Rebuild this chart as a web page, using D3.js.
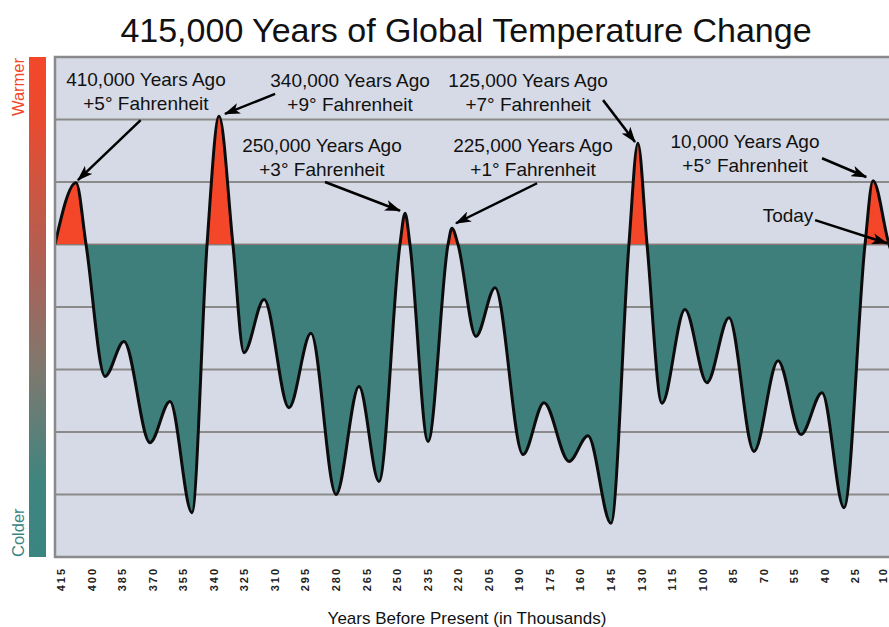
<!DOCTYPE html>
<html>
<head>
<meta charset="utf-8">
<script src="https://cdn.jsdelivr.net/npm/d3@7/dist/d3.min.js"></script>
<style>
  html, body { margin: 0; padding: 0; background: #ffffff; }
  svg { display: block; }
  text { font-family: "Liberation Sans", Arial, Helvetica, sans-serif; }
</style>
</head>
<body>
<svg id="chart" width="889" height="627"></svg>
<script>
// ---------------- DATA ----------------
const title = "415,000 Years of Global Temperature Change";
const xAxisTitle = "Years Before Present (in Thousands)";

// thousands of years before present
const years = [418, 407.6, 402.7, 393.4, 384.1, 371.3, 361.5, 350.7, 343.3, 337.4, 330.6,
  325.2, 315.3, 303.1, 292.3, 280.0, 268.7, 258.9, 248.6, 246.1, 243.7, 234.8, 225.0,
  223.1, 220.1, 211.3, 201.9, 188.2, 177.9, 165.6, 156.3, 145.0, 136.2, 131.8, 127.3,
  120.0, 108.7, 97.9, 87.1, 74.8, 63.0, 51.7, 41.4, 30.6, 20.3, 16.4, 8.5, 4];
// relative temperature (one unit = one grid step)
const temps = [0, 0.99, 0, -2.11, -1.55, -3.17, -2.51, -4.29, 0, 2.05, 0,
  -1.73, -0.88, -2.61, -1.42, -4.0, -2.27, -3.79, 0, 0.5, 0, -3.15, 0,
  0.26, 0, -1.47, -0.69, -3.36, -2.53, -3.47, -3.06, -4.46, 0, 1.62, 0,
  -2.54, -1.04, -2.21, -1.17, -3.31, -1.86, -3.04, -2.37, -4.21, 0, 1.02, 0, -0.4];

const tickYears = d3.range(415, 9, -15);          // 415, 400, ... 10
const gridTemps = [-4, -3, -2, -1, 0, 1, 2];

// annotations
const annoLine1 = ["410,000 Years Ago", "340,000 Years Ago", "250,000 Years Ago",
  "225,000 Years Ago", "125,000 Years Ago", "10,000 Years Ago", "Today"];
const annoLine2 = ["+5° Fahrenheit", "+9° Fahrenheit", "+3° Fahrenheit",
  "+1° Fahrenheit", "+7° Fahrenheit", "+5° Fahrenheit", ""];
const annoTextYear = [373.3, 273.1, 286.9, 183.3, 185.7, 79.2, 58.1];
const annoTextTemp = [2.536, 2.52, 1.48, 1.48, 2.52, 1.544, 0.36];
const arrowFromYear = [375.9, 309.9, 285.4, 181.3, 148.9, 41.4, 44.8];
const arrowFromTemp = [1.99, 2.41, 1.0, 0.98, 2.31, 1.38, 0.39];
const arrowToYear = [406.7, 334.5, 248.6, 221.1, 133.2, 19.7, 9.5];
const arrowToTemp = [1.03, 2.09, 0.54, 0.34, 1.64, 1.08, 0.02];

// ---------------- LAYOUT ----------------
const W = 889;
const svg = d3.select("#chart");
const plotLeft = 55, plotRight = 900, plotTop = 57, plotBottom = 557;

const x = d3.scaleLinear().domain([415, 10]).range([61, 886]);
const y = d3.scaleLinear().domain([-5, 3]).range([plotBottom, plotTop]);

const COL_BG = "#d6dae6", COL_GRID = "#8a8a8a", COL_RED = "#f4472a", COL_TEAL = "#3e7f7c";

const defs = svg.append("defs");
const grad = defs.append("linearGradient").attr("id", "bar").attr("x1", 0).attr("y1", 0).attr("x2", 0).attr("y2", 1);
[[0, "#f4472a"], [0.12, "#ea4b2f"], [0.45, "#a6645a"], [0.62, "#80786e"], [0.85, "#3f8580"], [1, "#3a8580"]]
  .forEach(([o, c]) => grad.append("stop").attr("offset", o).attr("stop-color", c));

defs.append("clipPath").attr("id", "plotClip").append("rect")
  .attr("x", plotLeft).attr("y", plotTop).attr("width", plotRight - plotLeft).attr("height", plotBottom - plotTop);
defs.append("clipPath").attr("id", "warmClip").append("rect")
  .attr("x", plotLeft).attr("y", plotTop).attr("width", plotRight - plotLeft).attr("height", y(0) - plotTop);
defs.append("clipPath").attr("id", "coldClip").append("rect")
  .attr("x", plotLeft).attr("y", y(0)).attr("width", plotRight - plotLeft).attr("height", plotBottom - y(0));

defs.append("marker").attr("id", "arrow")
  .attr("markerUnits", "userSpaceOnUse")
  .attr("viewBox", "0 0 16 11").attr("refX", 15).attr("refY", 5.5)
  .attr("markerWidth", 16).attr("markerHeight", 11).attr("orient", "auto")
  .append("path").attr("d", "M0,0 L16,5.5 L0,11 L4,5.5 Z").attr("fill", "#000");

// title
svg.append("text").attr("x", 466).attr("y", 42).attr("text-anchor", "middle")
  .attr("font-size", 34).attr("fill", "#111").text(title);

// colour bar + labels
svg.append("rect").attr("x", 29).attr("y", plotTop).attr("width", 17).attr("height", plotBottom - plotTop)
  .attr("fill", "url(#bar)");
svg.append("text").attr("transform", `translate(24,${plotTop + 1}) rotate(-90)`)
  .attr("text-anchor", "end").attr("font-size", 16.5).attr("fill", "#f04a2a").text("Warmer");
svg.append("text").attr("transform", `translate(24,${plotBottom}) rotate(-90)`)
  .attr("text-anchor", "start").attr("font-size", 16.5).attr("fill", "#3a8580").text("Colder");

// plot background
svg.append("rect").attr("x", plotLeft).attr("y", plotTop).attr("width", plotRight - plotLeft)
  .attr("height", plotBottom - plotTop).attr("fill", COL_BG);

// grid lines
svg.append("g").selectAll("line").data(gridTemps).join("line")
  .attr("x1", plotLeft).attr("x2", plotRight)
  .attr("y1", d => y(d)).attr("y2", d => y(d))
  .attr("stroke", COL_GRID).attr("stroke-width", 2.2);

// data
const pts = years.map((yr, i) => ({ yr, t: temps[i] }));
const area = d3.area().x(d => x(d.yr)).y0(y(0)).y1(d => y(d.t)).curve(d3.curveMonotoneX);
const line = d3.line().x(d => x(d.yr)).y(d => y(d.t)).curve(d3.curveMonotoneX);

const plot = svg.append("g").attr("clip-path", "url(#plotClip)");
plot.append("g").attr("clip-path", "url(#warmClip)").append("path")
  .datum(pts).attr("d", area).attr("fill", COL_RED);
plot.append("g").attr("clip-path", "url(#coldClip)").append("path")
  .datum(pts).attr("d", area).attr("fill", COL_TEAL);
plot.append("path").datum(pts).attr("d", line).attr("fill", "none")
  .attr("stroke", "#0c0c0c").attr("stroke-width", 3).attr("stroke-linejoin", "round");

// frame
svg.append("rect").attr("x", plotLeft).attr("y", plotTop).attr("width", plotRight - plotLeft)
  .attr("height", plotBottom - plotTop).attr("fill", "none").attr("stroke", "#8a8a8a").attr("stroke-width", 2.5);

// x axis tick labels
const xAxis = d3.axisBottom(x).tickValues(tickYears).tickSize(0).tickPadding(0).tickFormat(d3.format("d"));
const gx = svg.append("g").attr("transform", `translate(0,${plotBottom + 10})`).call(xAxis);
gx.select(".domain").remove();
// keep the last label fully inside the picture
gx.selectAll(".tick").attr("transform", d => `translate(${Math.min(x(d), W - 6)},0)`);
gx.selectAll("text")
  .attr("transform", "rotate(-90)")
  .attr("text-anchor", "end")
  .attr("x", 0).attr("y", 0).attr("dy", "0.36em")
  .attr("font-family", "'Liberation Sans', Arial, sans-serif")
  .attr("font-size", 11).attr("font-weight", "bold")
  .attr("letter-spacing", "2px")
  .attr("fill", "#222");

// x axis title
svg.append("text").attr("x", 467).attr("y", 624).attr("text-anchor", "middle")
  .attr("font-size", 17).attr("fill", "#111").text(xAxisTitle);

// annotations
const ag = svg.append("g");
annoLine1.forEach((t1, i) => {
  const tx = x(annoTextYear[i]), ty = y(annoTextTemp[i]);
  ag.append("text").attr("x", tx).attr("y", ty).attr("text-anchor", "middle")
    .attr("font-size", 19).attr("fill", "#111").text(t1);
  if (annoLine2[i]) {
    ag.append("text").attr("x", tx).attr("y", ty + 24).attr("text-anchor", "middle")
      .attr("font-size", 19).attr("fill", "#111").text(annoLine2[i]);
  }
  ag.append("line")
    .attr("x1", x(arrowFromYear[i])).attr("y1", y(arrowFromTemp[i]))
    .attr("x2", x(arrowToYear[i])).attr("y2", y(arrowToTemp[i]))
    .attr("stroke", "#000").attr("stroke-width", 2.5)
    .attr("marker-end", "url(#arrow)");
});
</script>
</body>
</html>
